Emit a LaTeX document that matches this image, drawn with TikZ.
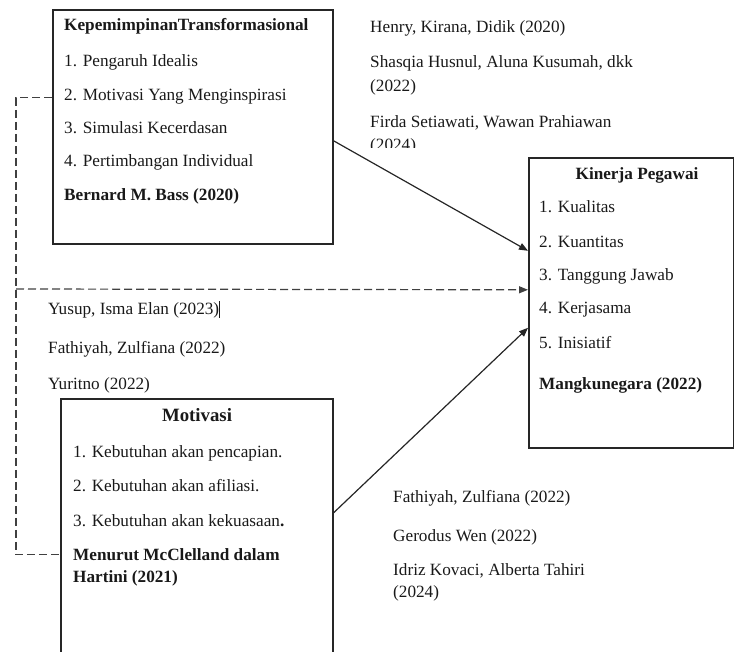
\documentclass[tikz,border=0pt]{standalone}
\usepackage{fontspec}
\setmainfont{Liberation Serif}
\usetikzlibrary{arrows.meta}
\tikzset{
  txt/.style={anchor=base west, inner sep=0pt, text=black!90, font=\fontsize{17.2}{20}\selectfont},
  btxt/.style={txt, font=\fontsize{17.2}{20}\selectfont\bfseries},
  ctxt/.style={anchor=base, inner sep=0pt, text=black!90, font=\fontsize{17.2}{20}\selectfont\bfseries},
  boxnode/.style={draw=black!85, line width=1.6pt, anchor=north west, inner sep=0pt},
  solidarrow/.style={draw=black!85, line width=1.2pt, -{Triangle[length=9pt,width=7pt]}},
  dashline/.style={draw=black!75, line width=1.2pt, dash pattern=on 8pt off 4pt},
  dasharrow/.style={dashline, -{Triangle[length=9pt,width=7pt]}}
}
\begin{document}
\begin{tikzpicture}[x=1pt,y=-1pt]
\clip (0,0) rectangle (734,652);
% boxes
\node[boxnode, minimum width=280pt, minimum height=234pt] (b1) at (52,9) {};
\node[boxnode, minimum width=205pt, minimum height=290pt] (b3) at (528,157) {};
\node[boxnode, minimum width=272pt, minimum height=300pt] (b2) at (60,398) {};
% box 1 text
\node[btxt] (t11) at (64,31) {KepemimpinanTransformasional};
\node[txt] (t12) at (64,67) {1. Pengaruh Idealis};
\node[txt] (t13) at (64,101) {2. Motivasi Yang Menginspirasi};
\node[txt] (t14) at (64,134) {3. Simulasi Kecerdasan};
\node[txt] (t15) at (64,167) {4. Pertimbangan Individual};
\node[btxt] (t16) at (64,201) {Bernard M. Bass (2020)};
% top right refs
\node[txt] (r1) at (370,33) {Henry, Kirana, Didik (2020)};
\node[txt] (r2) at (370,68) {Shasqia Husnul, Aluna Kusumah, dkk};
\node[txt] (r3) at (370,92) {(2022)};
\node[txt] (r4) at (370,128) {Firda Setiawati, Wawan Prahiawan};
\begin{scope}
\clip (360,0) rectangle (520,148);
\node[txt] (r5) at (370,151) {(2024)};
\end{scope}
% box 3 text
\node[ctxt] (t31) at (637,180) {Kinerja Pegawai};
\node[txt] (t32) at (539,213) {1. Kualitas};
\node[txt] (t33) at (539,248) {2. Kuantitas};
\node[txt] (t34) at (539,281) {3. Tanggung Jawab};
\node[txt] (t35) at (539,314) {4. Kerjasama};
\node[txt] (t36) at (539,349) {5. Inisiatif};
\node[btxt] (t37) at (539,390) {Mangkunegara (2022)};
% middle left refs
\node[txt] (m1) at (48,315) {Yusup, Isma Elan (2023)\rule[-3pt]{0.9pt}{17pt}};
\node[txt] (m2) at (48,354) {Fathiyah, Zulfiana (2022)};
\node[txt] (m3) at (48,389) {Yuritno (2022)};
% box 2 text
\node[ctxt, font=\fontsize{18.8}{22}\selectfont\bfseries] (t21) at (197,421) {Motivasi};
\node[txt] (t22) at (73,457) {1. Kebutuhan akan pencapian.};
\node[txt] (t23) at (73,491) {2. Kebutuhan akan afiliasi.};
\node[txt] (t24) at (73,526) {3. Kebutuhan akan kekuasaan\textbf{.}};
\node[btxt] (t25) at (73,560) {Menurut McClelland dalam};
\node[btxt] (t26) at (73,582) {Hartini (2021)};
% bottom right refs
\node[txt] (s1) at (393,502) {Fathiyah, Zulfiana (2022)};
\node[txt] (s2) at (393,541) {Gerodus Wen (2022)};
\node[txt] (s3) at (393,575) {Idriz Kovaci, Alberta Tahiri};
\node[txt] (s4) at (393,597) {(2024)};
% connectors
\draw[solidarrow] ([yshift=-14pt]b1.east) -- ([yshift=52pt]b3.west);
\draw[solidarrow] ([yshift=36pt]b2.east) -- ([yshift=-25pt]b3.west);
\draw[dashline] ([yshift=29pt]b1.west) -- ++(-36,0) |- ([yshift=-6pt]b2.west);
\coordinate (d0) at (16,289);
\draw[dasharrow] (d0) -- ([yshift=13pt]b3.west);
\end{tikzpicture}
\end{document}
